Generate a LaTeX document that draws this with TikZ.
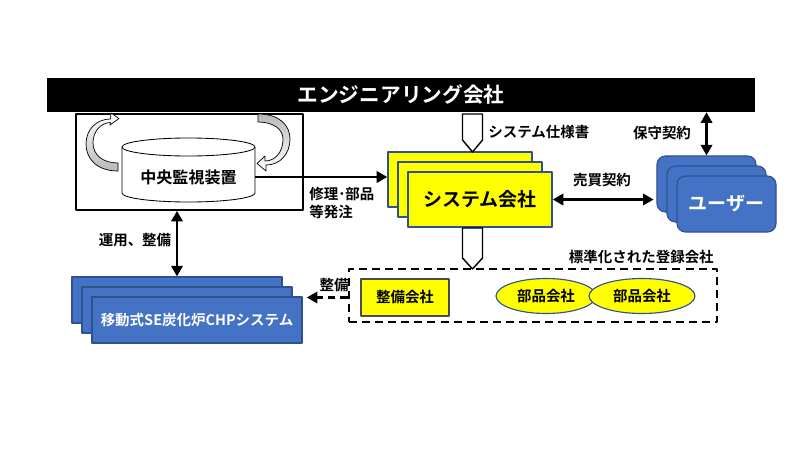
\documentclass[tikz,border=0pt]{standalone}
\usepackage{fontspec}
\setmainfont{Noto Sans CJK JP}[BoldFont={Noto Sans CJK JP Bold}]
\usetikzlibrary{arrows.meta,shapes.geometric}
\definecolor{sysyel}{HTML}{FFFF00}
\definecolor{usrblue}{HTML}{4472C4}
\definecolor{edgeblue}{HTML}{2F528F}
\tikzset{fig/.style={line join=round,>={Triangle[length=7.5pt,width=8pt]}},
  lbl/.style={font=\fontsize{10.3}{12.8}\selectfont\bfseries,inner sep=0pt},
  sysbox/.style={draw=edgeblue,line width=1pt,fill=sysyel,minimum width=3.6cm,minimum height=1.375cm},
  usrbox/.style={draw=edgeblue,line width=0.8pt,fill=usrblue,rounded corners=6pt,minimum width=2.475cm,minimum height=1.4cm},
  chebox/.style={draw=edgeblue,line width=0.8pt,fill=usrblue,minimum width=5.25cm,minimum height=1.15cm},
  partell/.style={ellipse,draw=edgeblue,line width=0.8pt,fill=sysyel,minimum height=0.875cm},
  flow/.style={line width=2pt,->},
  blkarrow/.style={draw=black,line width=1pt,fill=white}}

\begin{document}
\begin{tikzpicture}[fig,x=0.025cm,y=0.025cm]
  \useasboundingbox (0,0) rectangle (800,450);
  % header bar
  \node[fill=black,minimum width=17.7cm,minimum height=0.85cm,text=white,font=\fontsize{14.7}{16}\selectfont\bfseries] (bar) at (401,355) {エンジニアリング会社};
  % monitoring box with cylinder
  \node[draw=black,line width=1.2pt,minimum width=5.675cm,minimum height=2.4cm] (mon) at (189.5,288) {};
  \draw[fill=white,line width=0.6pt] (122,303) -- (122,257) arc[start angle=180,end angle=360,x radius=66.5,y radius=9] -- (255,303);
  \draw[fill=white,line width=0.6pt] (188.5,303) ellipse[x radius=66.5,y radius=9];
  \node[lbl,font=\fontsize{11.4}{13}\selectfont\bfseries,minimum width=3.325cm] (cyl) at (188.5,273) {中央監視装置};
  % curved arrows round the cylinder
  \draw[line width=0.5pt,top color=white,bottom color=gray!55]
    (118,279) .. controls (96,279) and (86,292) .. (86,306) .. controls (86,321) and (97,331) .. (110.5,331)
    -- (111,337) -- (119,331.5) -- (110,325) -- (110.3,327.5)
    .. controls (100,327) and (93,318) .. (93,307) .. controls (93,295) and (103,287) .. (118,287) -- cycle;
  \draw[line width=0.5pt,top color=gray!55,bottom color=white]
    (258,336) .. controls (279,336) and (290,325) .. (290,311) .. controls (290,296) and (280,285) .. (266,285)
    -- (266,279) -- (257,286.5) -- (265,294) -- (265,289)
    .. controls (276,289) and (283,299) .. (283,311) .. controls (283,321) and (273,328) .. (258,328) -- cycle;
  % system companies
  \node[sysbox] (sysC) at (460,270.5) {};
  \node[sysbox] (sysB) at (470,260.5) {};
  \node[sysbox,font=\fontsize{13.5}{15}\selectfont\bfseries] (sysA) at (480,250.5) {システム会社};
  % users
  \node[usrbox] (usrC) at (706.5,266) {};
  \node[usrbox] (usrB) at (716.5,256) {};
  \node[usrbox,text=white,font=\fontsize{13.5}{15}\selectfont\bfseries] (usrA) at (726.5,246) {ユーザー};
  % CHP systems
  \node[chebox] (cheC) at (177,150) {};
  \node[chebox] (cheB) at (187,140) {};
  \node[chebox,text=white,font=\fontsize{10.3}{12}\selectfont\bfseries] (cheA) at (197,130) {移動式SE炭化炉CHPシステム};
  % registered companies
  \node[draw=black,line width=1.4pt,dash pattern=on 5.7pt off 3.6pt,minimum width=9.2cm,minimum height=1.325cm] (reg) at (533,154.5) {};
  \node[draw=black!70,line width=0.8pt,fill=sysyel,minimum width=2.2cm,minimum height=0.925cm,lbl] (seibi) at (405,152.5) {整備会社};
  \node[partell,minimum width=2.5cm,lbl] (partA) at (546,154) {部品会社};
  \node[partell,minimum width=2.65cm,lbl] (partB) at (642,154) {部品会社};
  % block arrows
  \draw[blkarrow] (462.5,336) -- (462.5,310) -- (472.5,298) -- (482.5,310) -- (482.5,336) -- cycle;
  \draw[blkarrow] (462.5,222) -- (462.5,192) -- (472.5,181) -- (482.5,192) -- (482.5,222) -- cycle;
  % connectors
  \draw[flow] (cyl.east) -- (cyl.east -| sysC.west);
  \draw[flow,<->] (cheC.north) -- (cheC.north |- mon.south);
  \draw[flow,<->,shorten >=2pt] (sysA.east) -- (sysA.east -| usrC.west);
  \draw[flow,<->] (usrC.north) -- (usrC.north |- bar.south);
  \draw[flow,dash pattern=on 5.5pt off 3.5pt,shorten >=3pt] (seibi.west -| reg.west) -- (seibi.west -| cheA.east);
  % labels
  \node[lbl] (specLbl) at (488,318) [anchor=west] {システム仕様書};
  \node[lbl,align=left,anchor=west] (orderLbl) at (309,247) {修理･部品\\等発注};
  \node[lbl] (saleLbl) at (602,270) {売買契約};
  \node[lbl] (maintLbl) at (662,317) {保守契約};
  \node[lbl] (opLbl) at (135,210) {運用、整備};
  \node[lbl] (fixLbl) at (334,165) {整備};
  \node[lbl,anchor=east] (regLbl) at (714,193) {標準化された登録会社};
\end{tikzpicture}
\end{document}
